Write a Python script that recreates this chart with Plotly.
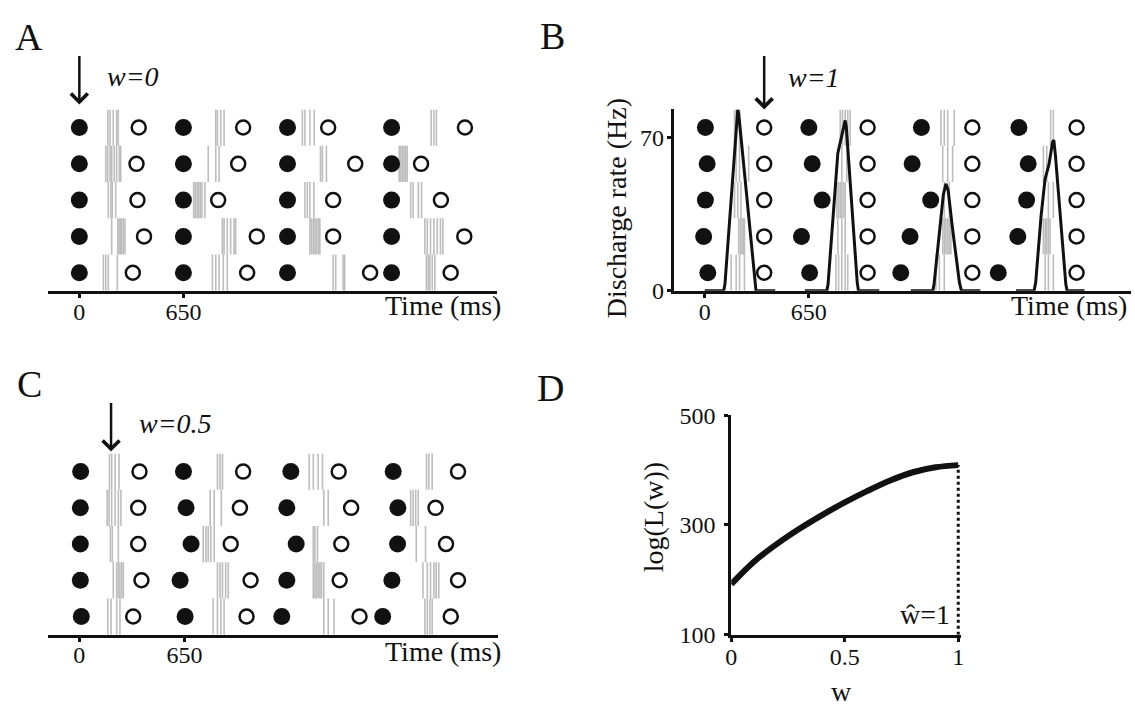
import plotly.graph_objects as go

W, H = 1135, 718
FONT = "Liberation Serif"

# row values (top row -> bottom row)
ROWS = [5, 4, 3, 2, 1]

# ---------------- Panel A (w = 0) : times in ms ----------------
A_FILLED = [[0, 650, 1300, 1950]] * 5
A_OPEN = [[371, 1023, 1554, 2408],
          [357, 992, 1723, 2134],
          [363, 867, 1585, 2258],
          [404, 1108, 1585, 2404],
          [334, 1048, 1816, 2319]]
A_SPIKES = [
    [178, 192, 212, 233, 243, 852, 862, 883, 904, 1393, 1409, 1440, 1467, 2197, 2214, 2230],
    [165, 177, 192, 202, 218, 233, 250, 258, 805, 852, 873, 1506, 1518, 1543, 1998, 2008, 2018, 2028, 2038, 2047],
    [181, 198, 206, 227, 714, 724, 735, 745, 755, 766, 784, 1409, 1424, 1440, 1465, 2069, 2084, 2117, 2137],
    [202, 240, 248, 256, 264, 274, 285, 893, 904, 924, 945, 966, 976, 1440, 1450, 1461, 1471, 1481, 1492, 1502,
     2158, 2173, 2193, 2214, 2235, 2255, 2270],
    [150, 165, 181, 237, 831, 852, 873, 899, 924, 1585, 1601, 1647, 1657, 2167, 2179, 2189, 2204, 2220],
]

# ---------------- Panel B (w = 1) ----------------
B_FILLED = [[4, 650, 1353, 1962],
            [15, 671, 1295, 2020],
            [4, 733, 1411, 2010],
            [-7, 604, 1282, 1955],
            [19, 655, 1224, 1833]]
B_OPEN = [[371, 1017, 1671, 2322]] * 5
B_SPIKES = [
    [186, 196, 217, 846, 860, 877, 893, 908, 1475, 1496, 1517, 1558, 2160, 2177],
    [196, 217, 274, 856, 887, 1486, 1517, 1548, 2115, 2136],
    [186, 206, 226, 825, 836, 846, 856, 867, 877, 1496, 1527, 2146, 2177],
    [212, 222, 232, 240, 248, 831, 856, 877, 1486, 1496, 1506, 1517, 1527, 1537, 2115, 2126, 2136, 2146, 2156],
    [165, 196, 217, 248, 819, 836, 856, 877, 893, 1444, 1465, 1496, 2126, 2146, 2177],
]
# discharge-rate curve (ms, Hz), four windows
RATE_T = [
    [0, 118, 126, 200, 206, 212, 312, 320, 440],
    [625, 762, 770, 831, 877, 884, 952, 960, 1090],
    [1287, 1424, 1432, 1470, 1490, 1506, 1520, 1545, 1590, 1603, 1721],
    [1944, 2057, 2067, 2100, 2125, 2150, 2172, 2180, 2190, 2230, 2255, 2263, 2371],
]
RATE_HZ = [
    [0, 0, 3, 81, 83, 81, 4, 0, 0],
    [0, 0, 3, 63, 78, 75, 4, 0, 0],
    [0, 0, 3, 30, 44, 49, 46, 30, 4, 0, 0],
    [0, 0, 4, 34, 51, 58, 68, 69, 62, 25, 3, 0, 0],
]

# ---------------- Panel C (w = 0.5) ----------------
C_FILLED = [[8, 644, 1308, 1941],
            [6, 660, 1283, 1970],
            [6, 691, 1341, 1968],
            [6, 623, 1283, 1933],
            [12, 654, 1252, 1876]]
C_OPEN = [[372, 1013, 1604, 2342],
          [364, 993, 1681, 2203],
          [364, 936, 1620, 2268],
          [384, 1059, 1610, 2342],
          [333, 1034, 1733, 2297]]
C_SPIKES = [
    [186, 200, 221, 245, 854, 870, 885, 1422, 1447, 1477, 1504, 2147, 2162, 2182],
    [172, 184, 200, 221, 241, 257, 809, 834, 878, 1512, 1539, 2049, 2064, 2080, 2096],
    [192, 204, 241, 766, 783, 797, 813, 834, 1447, 1457, 1473, 2084, 2141],
    [210, 231, 241, 251, 262, 272, 854, 870, 885, 905, 921, 1447, 1457, 1467, 1477, 1488, 1498, 1512,
     2125, 2152, 2172, 2193, 2207, 2223],
    [176, 196, 231, 251, 828, 854, 875, 895, 1512, 1539, 1575, 2137, 2152, 2168, 2182],
]

# ---------------- Panel D ----------------
D_W = [0, 0.1, 0.2, 0.3, 0.4, 0.5, 0.6, 0.7, 0.8, 0.9, 1.0]
D_LOGL = [192, 233, 265, 293, 318, 341, 362, 381, 396, 405, 409]
W_HAT = 1.0

ARROW_T = {"A": 0, "B": 371, "C": 196}


def pxx(x):
    return x / W


def pxy(y):
    return 1 - y / H


def spike_xy(spikes):
    xs, ys = [], []
    for r, times in zip(ROWS, spikes):
        for t in times:
            xs += [t, t, None]
            ys += [r - 0.5, r + 0.5, None]
    return xs, ys


def dots_xy(rows_times):
    xs, ys = [], []
    for r, times in zip(ROWS, rows_times):
        xs += list(times)
        ys += [r] * len(times)
    return xs, ys


SPIKE_COLOR = "#bdbdbd"
fig = go.Figure()


def add_raster(spikes, filled, opened, xa, ya):
    sx, sy = spike_xy(spikes)
    fig.add_trace(go.Scatter(x=sx, y=sy, mode="lines", line=dict(color=SPIKE_COLOR, width=1.6),
                             xaxis=xa, yaxis=ya, hoverinfo="skip"))
    fx, fy = dots_xy(filled)
    fig.add_trace(go.Scatter(x=fx, y=fy, mode="markers",
                             marker=dict(size=17, color="#111111", line=dict(width=0)),
                             xaxis=xa, yaxis=ya))
    ox, oy = dots_xy(opened)
    fig.add_trace(go.Scatter(x=ox, y=oy, mode="markers",
                             marker=dict(size=14, color="white", line=dict(width=2.5, color="#111111")),
                             xaxis=xa, yaxis=ya))


add_raster(A_SPIKES, A_FILLED, A_OPEN, "x", "y")
add_raster(B_SPIKES, B_FILLED, B_OPEN, "x2", "y2")
add_raster(C_SPIKES, C_FILLED, C_OPEN, "x3", "y4")

# rate curve (on overlaying Hz axis y3)
rx, ry = [], []
for ts, hs in zip(RATE_T, RATE_HZ):
    rx += ts + [None]
    ry += hs + [None]
fig.add_trace(go.Scatter(x=rx, y=ry, mode="lines", line=dict(color="#111111", width=3),
                         xaxis="x2", yaxis="y3", connectgaps=False))

# panel D
fig.add_trace(go.Scatter(x=D_W, y=D_LOGL, mode="lines", line=dict(color="#111111", width=6, shape="spline"),
                         xaxis="x4", yaxis="y5"))
fig.add_trace(go.Scatter(x=[W_HAT, W_HAT], y=[100, D_LOGL[-1]], mode="lines",
                         line=dict(color="#111111", width=3, dash="dot"), xaxis="x4", yaxis="y5"))


def axis_common(standoff=0):
    return dict(showgrid=False, zeroline=False, showline=True, linecolor="#111111", linewidth=3,
                ticks="outside", ticklen=4, tickwidth=3, tickcolor="#111111",
                ticklabelstandoff=standoff,
                tickfont=dict(family=FONT, size=24, color="#111111"))


fig.update_layout(
    width=W, height=H, margin=dict(l=0, r=0, t=0, b=0),
    paper_bgcolor="white", plot_bgcolor="rgba(0,0,0,0)", showlegend=False,
    font=dict(family=FONT, color="#111111"),
    xaxis=dict(domain=[pxx(42), pxx(495)], range=[-198, 2606], anchor="y",
               tickvals=[0, 650], **axis_common(-7)),
    yaxis=dict(domain=[pxy(288.3), pxy(100)], range=[0.5, 5.5], anchor="x", visible=False),
    xaxis2=dict(domain=[pxx(673.8), 1.0], range=[-193, 2662], anchor="y2",
                tickvals=[0, 650], **axis_common(-7)),
    yaxis2=dict(domain=[pxy(288.3), pxy(100)], range=[0.5, 5.5], anchor="x2", visible=False),
    yaxis3=dict(overlaying="y2", anchor="x2", side="left", range=[0, 83.05],
                tickvals=[0, 70], **axis_common(-2)),
    xaxis3=dict(domain=[pxx(42.7), pxx(496)], range=[-192, 2587], anchor="y4",
                tickvals=[0, 650], **axis_common(-7)),
    yaxis4=dict(domain=[pxy(645), pxy(457)], range=[0.5, 5.5], anchor="x3", visible=False),
    xaxis4=dict(domain=[pxx(731.7), pxx(963)], range=[0, 1.01], anchor="y5",
                tickvals=[0, 0.5, 1], ticktext=["0", "0.5", "1"], **axis_common(-5)),
    yaxis5=dict(domain=[pxy(645), pxy(417.3)], range=[100, 500], anchor="x4",
                tickvals=[100, 300, 500], **axis_common(4)),
)

ann = []


def text(t, x, y, size=26, xanchor="center", angle=0):
    ann.append(dict(text=t, x=pxx(x), y=pxy(y), xref="paper", yref="paper", showarrow=False,
                    xanchor=xanchor, yanchor="middle", textangle=angle,
                    font=dict(family=FONT, size=size, color="#111111")))


# panel letters
text("A", 7, 25, 38, "left")
text("B", 537, 24, 38, "left")
text("C", 9, 385, 38, "left")
text("D", 534, 389, 38, "left")

# w labels
text("<i>w=0</i>", 100, 66, 28, "left")
text("<i>w=1</i>", 787, 67, 28, "left")
text("<i>w=0.5</i>", 132, 426, 28, "left")

# axis texts
text("Time (ms)", 501, 304, 28, "right")
text("Time (ms)", 1133, 304, 28, "right")
text("Time (ms)", 501, 663, 28, "right")
text("Discharge rate (Hz)", 616, 203, 28, "center", -90)
text("log(L(w))", 653, 523, 28, "center", -90)
text("w", 843, 704, 28)
text("\u0175=1", 927, 624, 28)

# arrows
for key, xa, tip, length in [("A", "x", 95, 50), ("B", "x2", 100, 55), ("C", "x3", 455, 50)]:
    ann.append(dict(text="", x=ARROW_T[key], y=pxy(tip), xref=xa, yref="paper",
                    showarrow=True, ax=0, ay=-length, arrowhead=4, arrowsize=1.3,
                    arrowwidth=2.5, arrowcolor="#111111"))

fig.update_layout(annotations=ann)
fig.write_html("out.html", config={"displayModeBar": False},
               post_script="document.body.style.margin='0px';")
